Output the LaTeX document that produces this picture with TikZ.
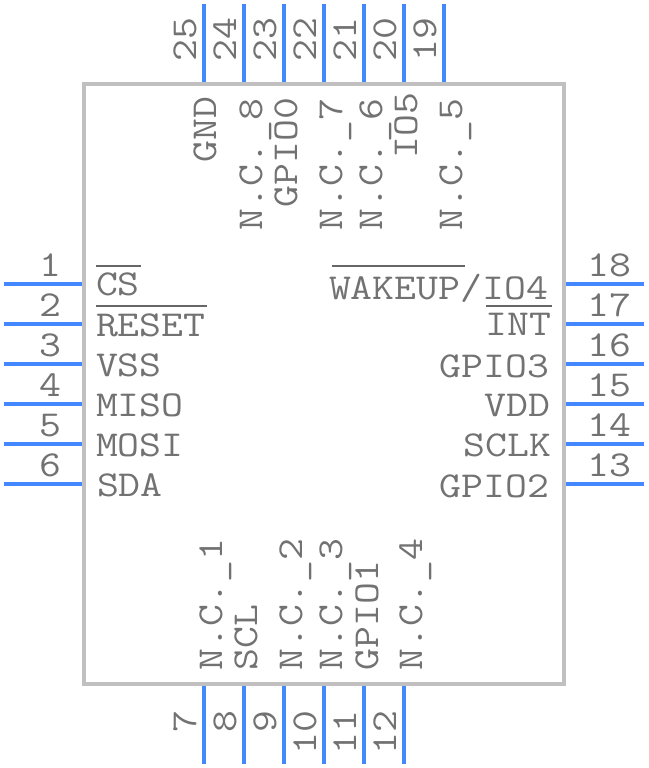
\documentclass[tikz,border=0pt]{standalone}
\usepackage{fontspec}
\setmonofont[FakeStretch=1.165]{Latin Modern Mono}
\definecolor{pinblue}{HTML}{4488FF}
\definecolor{bodygray}{HTML}{C0C0C0}
\definecolor{textgray}{HTML}{727272}
\newcommand{\lowdash}{\raisebox{-2pt}{\_}}
\tikzset{
    pinline/.style={draw=pinblue, line width=4pt},
    bodybox/.style={draw=bodygray, line width=4pt},
    barline/.style={draw=textgray!90!black, line width=2pt},
    pintext/.style={text=textgray, font=\ttfamily\fontsize{36.5}{36.5}\selectfont, inner sep=0pt, outer sep=0pt}
}
\begin{document}
\begin{tikzpicture}[x=1pt, y=-1pt]
        \useasboundingbox (0,0) rectangle (648,768);
        \draw[bodybox] (84,84) rectangle (564,684);
        % left and right pins
        \foreach \n/\m [count=\i from 0] in {1/18,2/17,3/16,4/15,5/14,6/13} {
            \coordinate (la\n) at (4,284+40*\i);
            \coordinate (lb\n) at (82,284+40*\i);
            \coordinate (ra\m) at (566,284+40*\i);
            \coordinate (rb\m) at (644,284+40*\i);
            \draw[pinline] (la\n) -- (lb\n);
            \draw[pinline] (ra\m) -- (rb\m);
            \node[pintext, anchor=base] (num\n) at (50,276+40*\i) {\n};
            \node[pintext, anchor=base east] (num\m) at (631,276+40*\i) {\m};
        }
        % top pins
        \foreach \n [count=\i from 0] in {25,24,23,22,21,20,19} {
            \coordinate (ta\n) at (204+40*\i,4);
            \coordinate (tb\n) at (204+40*\i,82);
            \draw[pinline] (ta\n) -- (tb\n);
            \node[pintext, rotate=90, anchor=base east] (num\n) at (196+40*\i,18) {\n};
        }
        % bottom pins
        \foreach \n [count=\i from 0] in {7,8,9,10,11,12} {
            \coordinate (ba\n) at (204+40*\i,686);
            \coordinate (bb\n) at (204+40*\i,764);
            \draw[pinline] (ba\n) -- (bb\n);
            \node[pintext, rotate=90, anchor=base east] (num\n) at (196+40*\i,711) {\n};
        }
        % names inside the body
        \foreach \s/\t/\x/\y in {cs/CS/96/295, reset/RESET/96/336, vss/VSS/96/376,
            miso/MISO/96/416, mosi/MOSI/96/456, sda/SDA/97/496}
            \node[pintext, anchor=base west] (\s) at (\x,\y) {\t};
        \foreach \s/\t/\x/\y in {wakeup/{WAKEUP/IO4}/548/299, int/INT/551/335, gpiothree/GPIO3/549/377,
            vdd/VDD/550/416, sclk/SCLK/551/456, gpiotwo/GPIO2/549/497}
            \node[pintext, anchor=base east] (\s) at (\x,\y) {\t};
        \foreach \s/\t/\x/\y in {gnd/GND/216/162, nceight/N.C.\lowdash 8/262/230, gpiozero/GPIO0/297/207,
            ncseven/N.C.\lowdash 7/342/230, ncsix/N.C.\lowdash 6/382/230, iofive/IO5/417/158, ncfive/N.C.\lowdash 5/462/230,
            ncone/N.C.\lowdash 1/222/670, scl/SCL/257/670, nctwo/N.C.\lowdash 2/302/670, ncthree/N.C.\lowdash 3/342/670,
            gpioone/GPIO1/378/670, ncfour/N.C.\lowdash 4/422/670}
            \node[pintext, rotate=90, anchor=base west] (\s) at (\x,\y) {\t};
        % bars over the active low names
        \draw[barline] (96,266) -- (141,266);
        \draw[barline] (96,306) -- (207,306);
        \draw[barline] (332,266) -- (465,266);
        \draw[barline] (486,306) -- (552,306);
\end{tikzpicture}
\end{document}
